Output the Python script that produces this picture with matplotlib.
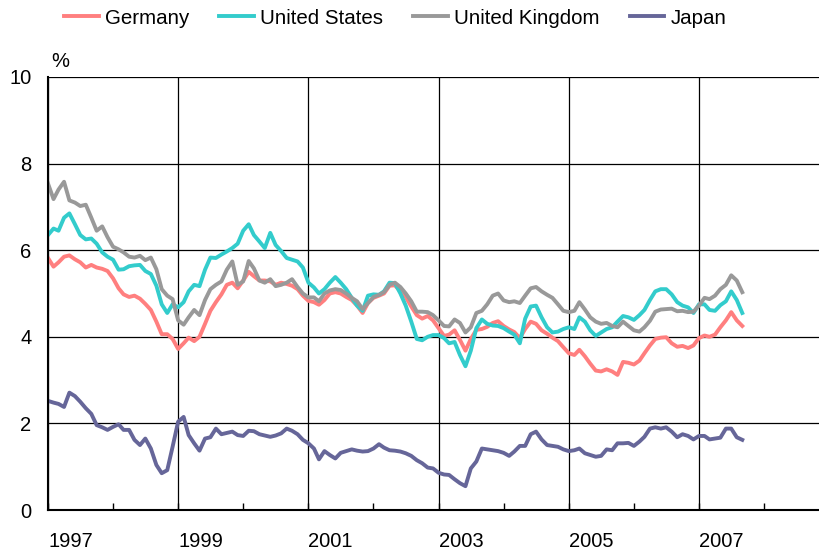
import numpy as np
import pandas as pd
import matplotlib
matplotlib.use("Agg")
import matplotlib.pyplot as plt
from datetime import datetime

plt.rcParams['font.family'] = ['Liberation Sans', 'DejaVu Sans']

# monthly 10-year government bond yields, Jan 1997 - Sep 2007 (%)
months = pd.date_range('1997-01-01', periods=129, freq='MS')

germany = [5.82, 5.62, 5.72, 5.85, 5.88, 5.79, 5.72, 5.60, 5.66, 5.60, 5.57, 5.52,
           5.35, 5.12, 4.98, 4.92, 4.95, 4.88, 4.76, 4.62, 4.35, 4.06, 4.06, 3.95,
           3.72, 3.85, 3.98, 3.90, 4.00, 4.30, 4.60, 4.80, 4.98, 5.20, 5.25, 5.12,
           5.30, 5.50, 5.40, 5.30, 5.30, 5.28, 5.20, 5.25, 5.22, 5.18, 5.10, 4.95,
           4.83, 4.80, 4.74, 4.85, 5.00, 5.03, 5.00, 4.92, 4.85, 4.72, 4.55, 4.78,
           4.90, 4.95, 5.00, 5.18, 5.19, 5.05, 4.92, 4.70, 4.50, 4.42, 4.48, 4.38,
           4.20, 4.02, 4.05, 4.15, 3.93, 3.68, 3.95, 4.16, 4.18, 4.23, 4.32, 4.36,
           4.25, 4.17, 4.11, 3.97, 4.18, 4.35, 4.30, 4.15, 4.07, 3.98, 3.90, 3.76,
           3.62, 3.58, 3.70, 3.55, 3.38, 3.22, 3.20, 3.25, 3.20, 3.12, 3.42, 3.40,
           3.36, 3.45, 3.62, 3.80, 3.95, 3.98, 3.99, 3.85, 3.77, 3.79, 3.74, 3.80,
           3.97, 4.03, 4.00, 4.05, 4.22, 4.38, 4.57, 4.38, 4.25]

united_states = [6.35, 6.50, 6.45, 6.75, 6.85, 6.60, 6.35, 6.25, 6.27, 6.15, 5.95, 5.85,
                 5.78, 5.55, 5.56, 5.63, 5.65, 5.66, 5.52, 5.45, 5.18, 4.75, 4.55, 4.75,
                 4.68, 4.80, 5.05, 5.20, 5.17, 5.55, 5.83, 5.82, 5.90, 5.97, 6.05, 6.15,
                 6.45, 6.60, 6.35, 6.20, 6.05, 6.40, 6.12, 5.98, 5.82, 5.78, 5.74, 5.60,
                 5.25, 5.14, 5.00, 5.10, 5.25, 5.38, 5.25, 5.10, 4.90, 4.72, 4.60, 4.95,
                 4.98, 4.97, 5.05, 5.25, 5.24, 5.00, 4.72, 4.35, 3.95, 3.92, 4.00, 4.04,
                 4.04, 3.97, 3.85, 3.88, 3.58, 3.32, 3.68, 4.20, 4.40, 4.30, 4.26, 4.25,
                 4.20, 4.12, 4.05, 3.85, 4.42, 4.70, 4.72, 4.45, 4.22, 4.10, 4.12, 4.18,
                 4.22, 4.18, 4.45, 4.35, 4.15, 4.02, 4.10, 4.18, 4.22, 4.35, 4.48, 4.45,
                 4.39, 4.50, 4.62, 4.85, 5.05, 5.10, 5.10, 4.98, 4.80, 4.72, 4.68, 4.55,
                 4.75, 4.75, 4.62, 4.60, 4.73, 4.82, 5.05, 4.85, 4.55]

united_kingdom = [7.54, 7.18, 7.40, 7.58, 7.15, 7.10, 7.02, 7.05, 6.75, 6.45, 6.55, 6.30,
                  6.08, 6.02, 5.95, 5.85, 5.83, 5.87, 5.77, 5.83, 5.56, 5.10, 4.95, 4.87,
                  4.38, 4.28, 4.45, 4.62, 4.50, 4.85, 5.10, 5.20, 5.28, 5.55, 5.74, 5.20,
                  5.28, 5.75, 5.58, 5.30, 5.25, 5.33, 5.17, 5.20, 5.25, 5.33, 5.15, 5.00,
                  4.91, 4.91, 4.82, 5.00, 5.07, 5.10, 5.08, 5.00, 4.90, 4.82, 4.64, 4.78,
                  4.92, 4.97, 5.03, 5.20, 5.25, 5.15, 5.00, 4.82, 4.58, 4.58, 4.57, 4.50,
                  4.38, 4.25, 4.24, 4.40, 4.32, 4.10, 4.22, 4.55, 4.60, 4.75, 4.95, 5.00,
                  4.84, 4.80, 4.82, 4.78, 4.95, 5.12, 5.15, 5.05, 4.97, 4.90, 4.75, 4.60,
                  4.57, 4.60, 4.80, 4.63, 4.45, 4.35, 4.30, 4.32, 4.25, 4.22, 4.35, 4.25,
                  4.15, 4.12, 4.22, 4.37, 4.58, 4.63, 4.64, 4.65, 4.59, 4.60, 4.57, 4.58,
                  4.72, 4.90, 4.87, 4.95, 5.10, 5.20, 5.42, 5.30, 5.03]

japan = [2.52, 2.48, 2.45, 2.38, 2.71, 2.63, 2.50, 2.35, 2.22, 1.96, 1.91, 1.85,
         1.92, 1.98, 1.85, 1.85, 1.62, 1.50, 1.65, 1.42, 1.04, 0.85, 0.92, 1.46,
         2.04, 2.15, 1.73, 1.54, 1.37, 1.65, 1.68, 1.88, 1.75, 1.78, 1.81, 1.73,
         1.71, 1.83, 1.82, 1.75, 1.72, 1.69, 1.72, 1.77, 1.88, 1.83, 1.75, 1.62,
         1.54, 1.42, 1.17, 1.36, 1.27, 1.19, 1.32, 1.36, 1.40, 1.37, 1.35, 1.36,
         1.42, 1.52, 1.44, 1.38, 1.37, 1.35, 1.31, 1.25, 1.15, 1.08, 0.98, 0.96,
         0.86, 0.82, 0.81, 0.71, 0.62, 0.55, 0.96, 1.12, 1.42, 1.40, 1.38, 1.36,
         1.32, 1.25, 1.35, 1.48, 1.48, 1.75, 1.81, 1.63, 1.50, 1.48, 1.46, 1.40,
         1.36, 1.38, 1.42, 1.31, 1.27, 1.23, 1.25, 1.40, 1.38, 1.54, 1.54, 1.55,
         1.48, 1.58, 1.69, 1.88, 1.91, 1.88, 1.91, 1.81, 1.68, 1.75, 1.71, 1.63,
         1.71, 1.71, 1.63, 1.65, 1.67, 1.88, 1.88, 1.68, 1.62]

series = [("Germany", germany, "#FF7F7F"),
          ("United States", united_states, "#33CCCC"),
          ("United Kingdom", united_kingdom, "#999999"),
          ("Japan", japan, "#666699")]

fig = plt.figure(figsize=(8.2, 5.53), dpi=100)
ax = fig.add_axes([48 / 820, 43 / 553, 772 / 820, 433 / 553])

for name, vals, col in series:
    ax.plot(months, vals, color=col, lw=2.8, label=name, solid_joinstyle='round')

ax.set_xlim(datetime(1997, 1, 1), datetime(2008, 11, 10))
ax.set_ylim(0, 10)

major = [datetime(y, 1, 1) for y in range(1997, 2008, 2)]
minor = [datetime(y, 1, 1) for y in range(1998, 2009, 2)]
ax.set_xticks(major)
ax.set_xticklabels([str(y) for y in range(1997, 2008, 2)], ha='left')
ax.set_xticks(minor, minor=True)
ax.tick_params(axis='x', which='both', direction='in', length=5, width=1,
               labelsize=14.5, pad=16)
ax.set_yticks([0, 2, 4, 6, 8, 10])
ax.tick_params(axis='y', length=0, labelsize=14.5, pad=12)

ax.grid(True, which='major', color='black', lw=0.9)
ax.set_axisbelow(True)
for s in ['top', 'right']:
    ax.spines[s].set_visible(False)
for s in ['left', 'bottom']:
    ax.spines[s].set_linewidth(1.5)
    ax.spines[s].set_color('black')

ax.text(0.004, 1.015, "%", transform=ax.transAxes, fontsize=14.5, va='bottom')

fig.legend(loc='center left', bbox_to_anchor=(64 / 820, 1 - 18 / 553), ncol=4,
           frameon=False, fontsize=14.8, handlelength=1.7, handletextpad=0.3,
           columnspacing=1.45, borderpad=0, borderaxespad=0)

fig.savefig("out.png", dpi=100)
